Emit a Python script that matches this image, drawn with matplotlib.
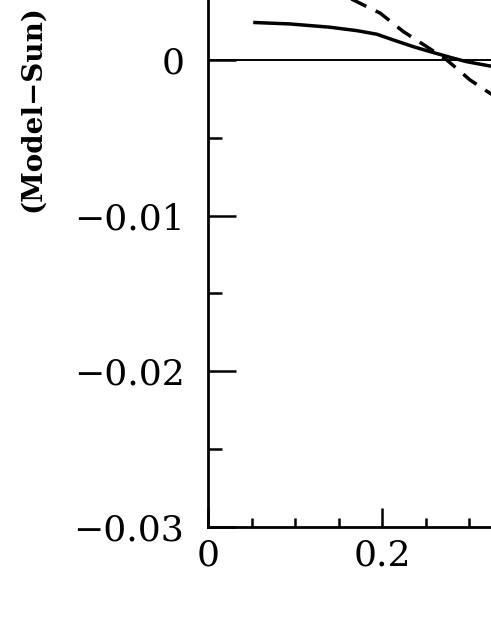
import numpy as np
import matplotlib
matplotlib.use('Agg')
import matplotlib.pyplot as plt
from matplotlib.ticker import MultipleLocator, FixedLocator

## Data
x_solid = [0.054, 0.094, 0.140, 0.171, 0.194, 0.213, 0.236, 0.259, 0.282, 0.297, 0.324, 0.332]
y_solid = [0.00240, 0.00231, 0.00210, 0.00188, 0.00165, 0.00128, 0.00085, 0.00047, 0.00011, -0.00011, -0.00039, -0.00045]

x_dash = [0.150, 0.167, 0.198, 0.2245, 0.2514, 0.2744, 0.301, 0.324, 0.332]
y_dash = [0.00432, 0.00385, 0.00300, 0.00182, 0.00085, 0.0, -0.00128, -0.00214, -0.00240]

ytick_vals = [0.0, -0.01, -0.02, -0.03]
ytick_labels = ['0', '\u22120.01', '\u22120.02', '\u22120.03']
xtick_vals = [0.0, 0.2]
xtick_labels = ['0', '0.2']

### Figure: axes reach past the canvas, only the lower-left corner shows
fig = plt.figure(figsize=(4.91, 6.35), dpi=100)
ax = fig.add_axes([208/491, 108/635, 348/491, 622.8/635])

ax.plot(x_solid, y_solid, color='black', linewidth=2.5)
ax.plot(x_dash, y_dash, color='black', linewidth=2.5, linestyle=(0, (4.8, 3)))
ax.axhline(0, color='black', linewidth=1.4)

ax.set_xlim(0, 0.4)
ax.set_ylim(-0.03, 0.01)

ax.yaxis.set_major_locator(FixedLocator(ytick_vals))
ax.set_yticklabels(ytick_labels)
ax.yaxis.set_minor_locator(MultipleLocator(0.005))
ax.xaxis.set_major_locator(FixedLocator(xtick_vals))
ax.set_xticklabels(xtick_labels)
ax.xaxis.set_minor_locator(MultipleLocator(0.05))

for lab in ax.get_xticklabels() + ax.get_yticklabels():
    lab.set_fontfamily('DejaVu Serif')
    lab.set_fontsize(26)

ax.tick_params(axis='y', which='major', direction='in', length=20, width=1.8, pad=17)
ax.tick_params(axis='y', which='minor', direction='in', length=10, width=1.8)
ax.tick_params(axis='x', which='major', direction='in', length=13.5, width=1.8, pad=8)
ax.tick_params(axis='x', which='minor', direction='in', length=6.5, width=1.8)

for s in ax.spines.values():
    s.set_linewidth(2)

fig.text(33/491, 1 - 212/635, '(Model\u2212Sun)', rotation=90, ha='center', va='bottom',
         fontsize=20, fontweight='bold', fontfamily='DejaVu Serif')

plt.savefig('out.png', dpi=100)
